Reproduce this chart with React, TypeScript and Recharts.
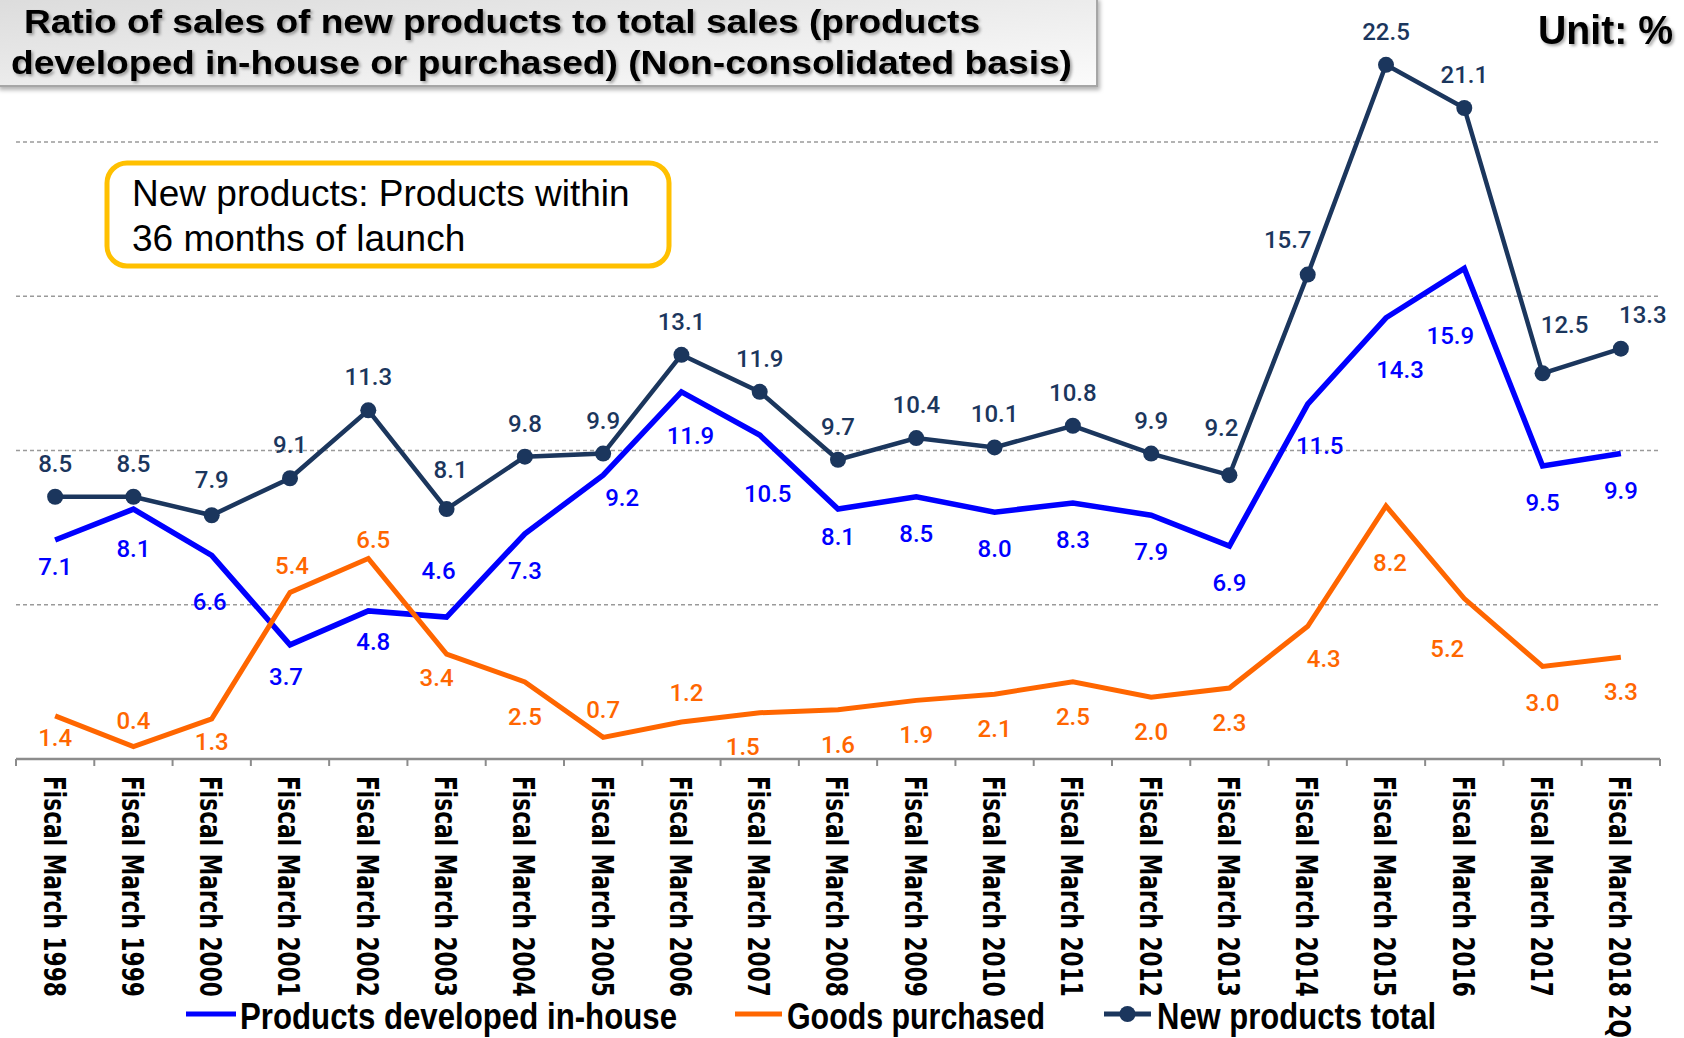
import React from 'react';
import { LineChart, Line, XAxis, YAxis, CartesianGrid, Legend } from 'recharts';

const categories = [
  'Fiscal March 1998', 'Fiscal March 1999', 'Fiscal March 2000', 'Fiscal March 2001',
  'Fiscal March 2002', 'Fiscal March 2003', 'Fiscal March 2004', 'Fiscal March 2005',
  'Fiscal March 2006', 'Fiscal March 2007', 'Fiscal March 2008', 'Fiscal March 2009',
  'Fiscal March 2010', 'Fiscal March 2011', 'Fiscal March 2012', 'Fiscal March 2013',
  'Fiscal March 2014', 'Fiscal March 2015', 'Fiscal March 2016', 'Fiscal March 2017',
  'Fiscal March 2018 2Q',
];
const inHouse = [7.1, 8.1, 6.6, 3.7, 4.8, 4.6, 7.3, 9.2, 11.9, 10.5, 8.1, 8.5, 8.0, 8.3, 7.9, 6.9, 11.5, 14.3, 15.9, 9.5, 9.9];
const purchased = [1.4, 0.4, 1.3, 5.4, 6.5, 3.4, 2.5, 0.7, 1.2, 1.5, 1.6, 1.9, 2.1, 2.5, 2.0, 2.3, 4.3, 8.2, 5.2, 3.0, 3.3];
const newTotal = [8.5, 8.5, 7.9, 9.1, 11.3, 8.1, 9.8, 9.9, 13.1, 11.9, 9.7, 10.4, 10.1, 10.8, 9.9, 9.2, 15.7, 22.5, 21.1, 12.5, 13.3];
const yTicks = [0, 5, 10, 15, 20];

const data = categories.map((name, i) => ({
  name,
  inHouse: inHouse[i],
  purchased: purchased[i],
  total: newTotal[i],
}));

const W = 1684;
const H = 1038;
const MARGIN = { top: 0, right: 24, bottom: 0, left: 16 };
const LEGEND_H = 48;
const XAXIS_H = 231;
const BAND = (W - MARGIN.left - MARGIN.right) / categories.length;

const NAVY = '#1B365D';
const BLUE = '#0000FF';
const ORANGE = '#FF6600';
const AXIS_GRAY = '#8c8c8c';

// label placement (dx, dy from the point), default + a few hand-placed ones
type Off = [number, number];
const totalLabelOff: { def: Off; at: Record<number, Off> } = {
  def: [0, -33],
  at: { 2: [0, -35], 5: [4, -39], 15: [-8, -47], 16: [-20, -35], 19: [22, -48], 20: [22, -34] },
};
const inHouseLabelOff: { def: Off; at: Record<number, Off> } = {
  def: [0, 37],
  at: {
    0: [0, 27], 1: [0, 40], 2: [-2, 47], 3: [-4, 32], 4: [5, 31], 5: [-8, -46], 7: [19, 23],
    8: [9, 44], 9: [8, 59], 10: [0, 28], 16: [12, 42], 17: [14, 52], 18: [-14, 68],
  },
};
const purchasedLabelOff: { def: Off; at: Record<number, Off> } = {
  def: [0, 35],
  at: {
    0: [0, 22], 1: [0, -26], 2: [0, 23], 3: [2, -26], 4: [5, -18], 5: [-10, 24], 7: [0, -27],
    8: [5, -29], 9: [-17, 34], 16: [16, 33], 17: [4, 57], 18: [-17, 50], 19: [0, 37],
  },
};

const makeLabel = (color: string, off: { def: Off; at: Record<number, Off> }) => (p: any) => {
  const x = p.x ?? p.viewBox?.x;
  const y = p.y ?? p.viewBox?.y;
  const [dx, dy] = off.at[p.index] ?? off.def;
  return (
    <text
      key={`lbl-${color}-${p.index}`}
      x={x + dx}
      y={y + dy}
      fill={color}
      fontSize={24}
      fontFamily="Roboto, 'Noto Sans', sans-serif"
      fontWeight={500}
      textAnchor="middle"
      dominantBaseline="central"
    >
      {Number(p.value).toFixed(1)}
    </text>
  );
};

function AxisTick(props: any) {
  const { x, y, payload, index } = props;
  const half = BAND / 2;
  return (
    <g>
      <line x1={x - half} x2={x - half} y1={y} y2={y + 7} stroke={AXIS_GRAY} strokeWidth={2} />
      {index === categories.length - 1 && (
        <line x1={x + half} x2={x + half} y1={y} y2={y + 7} stroke={AXIS_GRAY} strokeWidth={2} />
      )}
      <text
        transform={`translate(${x},${y + 17}) rotate(90) scale(0.7,1)`}
        x={0}
        y={11.5}
        fontFamily="'DejaVu Sans', sans-serif"
        fontWeight="bold"
        fontSize={31}
        fill="#000"
      >
        {payload.value}
      </text>
    </g>
  );
}

// legend item layout: line start/end, text start and fitted length
const legendPlace: Record<string, { x1: number; x2: number; tx: number; len: number; dot?: boolean }> = {
  inHouse: { x1: 186, x2: 236, tx: 240, len: 437 },
  purchased: { x1: 735, x2: 782, tx: 787, len: 258 },
  total: { x1: 1104, x2: 1151, tx: 1157, len: 279, dot: true },
};

function renderLegend(props: any) {
  const payload = props.payload || [];
  return (
    <svg width={W} height={LEGEND_H} style={{ display: 'block' }}>
      {payload.map((e: any) => {
        const pl = legendPlace[e.dataKey];
        if (!pl) return null;
        return (
          <g key={e.dataKey}>
            <line x1={pl.x1} x2={pl.x2} y1={24} y2={24} stroke={e.color} strokeWidth={5} />
            {pl.dot && <circle cx={(pl.x1 + pl.x2) / 2} cy={24} r={8} fill={e.color} />}
            <text
              x={pl.tx}
              y={39}
              fontFamily="'Liberation Sans', Arial, sans-serif"
              fontWeight="bold"
              fontSize={37}
              textLength={pl.len}
              lengthAdjust="spacingAndGlyphs"
              fill="#000"
            >
              {e.value}
            </text>
          </g>
        );
      })}
    </svg>
  );
}

function Overlay() {
  return (
    <svg
      width={W}
      height={H}
      style={{ position: 'absolute', left: 0, top: 0, pointerEvents: 'none' }}
    >
      <defs>
        <linearGradient id="titleBg" x1="0" y1="0" x2="1" y2="1">
          <stop offset="0%" stopColor="#dcdcdc" />
          <stop offset="100%" stopColor="#fbfbfb" />
        </linearGradient>
        <filter id="boxShadow" x="-5%" y="-20%" width="110%" height="150%">
          <feDropShadow dx="2" dy="3" stdDeviation="2" floodColor="#000" floodOpacity="0.3" />
        </filter>
        <filter id="textShadow" x="-5%" y="-30%" width="110%" height="160%">
          <feDropShadow dx="2" dy="2" stdDeviation="1.5" floodColor="#000" floodOpacity="0.35" />
        </filter>
      </defs>
      <rect x={-2} y={-2} width={1099} height={88} fill="url(#titleBg)" stroke="#a6a6a6" strokeWidth={2} filter="url(#boxShadow)" />
      <g filter="url(#textShadow)" fontFamily="'Liberation Sans', Arial, sans-serif" fontWeight="bold" fontSize={34} fill="#000">
        <text x={24} y={33} textLength={956} lengthAdjust="spacingAndGlyphs">
          Ratio of sales of new products to total sales (products
        </text>
        <text x={11} y={74} textLength={1061} lengthAdjust="spacingAndGlyphs">
          developed in-house or purchased) (Non-consolidated basis)
        </text>
        <text x={1538} y={44} fontSize={40} textLength={135} lengthAdjust="spacingAndGlyphs">
          Unit: %
        </text>
      </g>
      <rect x={107} y={163} width={562} height={103} rx={20} ry={20} fill="#fff" stroke="#FFC000" strokeWidth={5} />
      <g fontFamily="'Liberation Sans', Arial, sans-serif" fontSize={37} fill="#000">
        <text x={132} y={206}>New products: Products within</text>
        <text x={132} y={251}>36 months of launch</text>
      </g>
    </svg>
  );
}

export default function App() {
  return (
    <div style={{ position: 'absolute', left: 0, top: 0, width: W, height: H, background: '#fff', overflow: 'hidden' }}>
      <LineChart width={W} height={H} data={data} margin={MARGIN}>
        <CartesianGrid
          vertical={false}
          horizontalValues={yTicks}
          stroke="#9a9a9a"
          strokeDasharray="4 3"
          strokeWidth={1.5}
        />
        <XAxis
          dataKey="name"
          interval={0}
          tickLine={false}
          tickSize={0}
          tickMargin={0}
          height={XAXIS_H}
          padding={{ left: BAND / 2, right: BAND / 2 }}
          axisLine={{ stroke: AXIS_GRAY, strokeWidth: 2.5 }}
          tick={<AxisTick />}
        />
        <YAxis hide type="number" domain={[0, 24.6]} ticks={yTicks} />
        <Legend
          verticalAlign="bottom"
          height={LEGEND_H}
          content={renderLegend}
          wrapperStyle={{ left: 0, width: W }}
        />
        <Line
          dataKey="inHouse"
          name="Products developed in-house"
          stroke={BLUE}
          strokeWidth={5.5}
          dot={false}
          activeDot={false}
          isAnimationActive={false}
          label={makeLabel(BLUE, inHouseLabelOff)}
        />
        <Line
          dataKey="purchased"
          name="Goods purchased"
          stroke={ORANGE}
          strokeWidth={5}
          dot={false}
          activeDot={false}
          isAnimationActive={false}
          label={makeLabel(ORANGE, purchasedLabelOff)}
        />
        <Line
          dataKey="total"
          name="New products total"
          stroke={NAVY}
          strokeWidth={4.5}
          dot={{ r: 8, fill: NAVY, stroke: NAVY, strokeWidth: 0 }}
          activeDot={false}
          isAnimationActive={false}
          label={makeLabel(NAVY, totalLabelOff)}
        />
      </LineChart>
      <Overlay />
    </div>
  );
}
